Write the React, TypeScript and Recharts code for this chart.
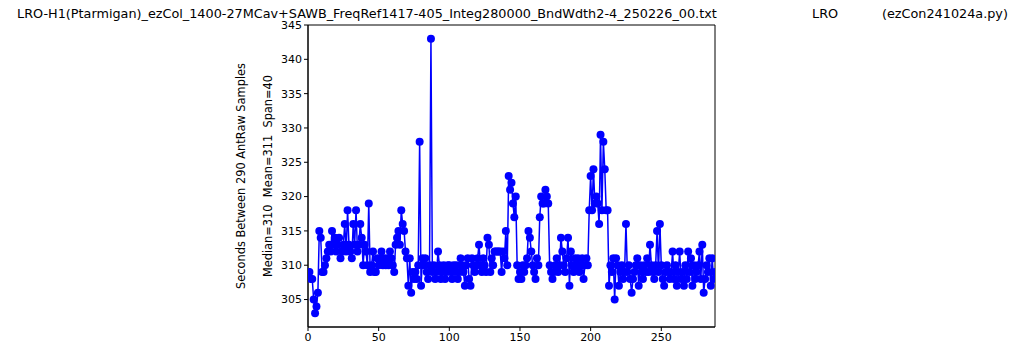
import React from "react";
import { LineChart, Line, XAxis, YAxis, Label, ReferenceArea } from "recharts";

const sampleIndex: number[] = Array.from({ length: 289 }, (_, i) => i);

const secondsBetween: number[] = [
  309, 309, 308, 308, 305, 303, 304, 306, 315, 314,
  309, 309, 310, 311, 312, 313, 312, 315, 313, 314,
  312, 313, 314, 311, 312, 313, 316, 312, 318, 313,
  312, 311, 316, 313, 318, 312, 313, 316, 314, 310,
  313, 312, 310, 319, 309, 310, 312, 309, 309, 311,
  310, 311, 312, 310, 311, 310, 311, 310, 312, 311,
  310, 309, 313, 314, 315, 313, 318, 316, 315, 312,
  311, 307, 311, 306, 309, 308, 309, 308, 310, 328,
  307, 311, 310, 311, 309, 308, 310, 343, 309, 310,
  308, 309, 312, 310, 308, 309, 310, 308, 309, 310,
  310, 309, 308, 310, 309, 310, 308, 309, 311, 310,
  309, 307, 310, 311, 308, 307, 311, 310, 309, 310,
  311, 313, 310, 309, 311, 310, 309, 314, 313, 309,
  311, 310, 312, 312, 312, 312, 312, 309, 312, 311,
  315, 310, 323, 321, 322, 319, 317, 320, 310, 308,
  309, 308, 310, 309, 310, 311, 315, 314, 312, 310,
  309, 308, 311, 310, 317, 320, 319, 319, 321, 320,
  319, 310, 309, 308, 309, 310, 311, 309, 310, 314,
  312, 310, 309, 311, 314, 307, 312, 310, 309, 311,
  310, 311, 309, 310, 311, 308, 310, 311, 310, 318,
  323, 318, 324, 319, 320, 319, 316, 329, 318, 328,
  324, 318, 318, 307, 310, 309, 311, 305, 311, 310,
  307, 309, 310, 308, 309, 316, 309, 310, 308, 306,
  308, 309, 310, 311, 307, 310, 309, 308, 310, 309,
  311, 309, 313, 310, 309, 308, 310, 315, 309, 316,
  310, 308, 307, 309, 310, 309, 308, 309, 312, 308,
  310, 307, 309, 312, 308, 309, 307, 310, 308, 312,
  309, 311, 307, 310, 308, 309, 310, 312, 308, 313,
  306, 308, 310, 309, 311, 307, 311, 308, 309,
];

const xTicks: number[] = [0, 50, 100, 150, 200, 250];
const yTicks: number[] = [305, 310, 315, 320, 325, 330, 335, 340, 345];

const titleMain =
  "LRO-H1(Ptarmigan)_ezCol_1400-27MCav+SAWB_FreqRef1417-405_Integ280000_BndWdth2-4_250226_00.txt";
const titleSite = "LRO";
const titleProg = "(ezCon241024a.py)";
const yLabel1 = "Seconds Between 290 AntRaw Samples";
const yLabel2 = "Median=310  Mean=311  Span=40";

const data = sampleIndex.map((x, i) => ({ x, v: secondsBetween[i] }));

const FONT = "DejaVu Sans, sans-serif";

const YLabelContent = (props: any) => {
  const vb = props.viewBox || {};
  const right = vb.x + vb.width;
  const cy = vb.y + vb.height / 2;
  const x1 = right - 67;
  const x2 = right - 40;
  return (
    <g>
      <text
        x={x1}
        y={cy}
        transform={`rotate(-90, ${x1}, ${cy})`}
        textAnchor="middle"
        dominantBaseline="central"
        fontFamily={FONT}
        fontSize={11.4}
        fill="#000"
        style={{ whiteSpace: "pre" }}
      >
        {yLabel1}
      </text>
      <text
        x={x2}
        y={cy}
        transform={`rotate(-90, ${x2}, ${cy})`}
        textAnchor="middle"
        dominantBaseline="central"
        fontFamily={FONT}
        fontSize={11.4}
        fill="#000"
        style={{ whiteSpace: "pre" }}
      >
        {yLabel2}
      </text>
    </g>
  );
};

const TitleContent = () => (
  <g fontFamily={FONT} fontSize={12.8} fill="#000">
    <text x={17} y={13} dominantBaseline="central">{titleMain}</text>
    <text x={812} y={13} dominantBaseline="central">{titleSite}</text>
    <text x={882} y={13} dominantBaseline="central">{titleProg}</text>
  </g>
);

export default function App() {
  return (
    <div style={{ position: "absolute", left: 0, top: 0, width: 1024, height: 355, background: "#fff" }}>
      <LineChart
        width={1024}
        height={355}
        data={data}
        margin={{ top: 25, right: 309, bottom: 3, left: 258 }}
      >
        <XAxis
          dataKey="x"
          type="number"
          domain={[0, 288]}
          ticks={xTicks}
          allowDataOverflow
          height={25}
          tickLine={{ stroke: "#000" }}
          axisLine={{ stroke: "#000" }}
          tickSize={4}
          tickMargin={2}
          tick={{ fill: "#000", fontSize: 11, fontFamily: FONT }}
        >
          <Label content={<TitleContent />} />
        </XAxis>
        <YAxis
          type="number"
          domain={[301, 345]}
          ticks={yTicks}
          allowDataOverflow
          width={50}
          tickLine={{ stroke: "#000" }}
          axisLine={{ stroke: "#000" }}
          tickSize={4}
          tickMargin={2}
          tick={{ fill: "#000", fontSize: 11, fontFamily: FONT }}
        >
          <Label content={<YLabelContent />} />
        </YAxis>
        <ReferenceArea
          x1={0}
          x2={288}
          y1={301}
          y2={345}
          fill="none"
          fillOpacity={0}
          stroke="#000"
          strokeWidth={1}
          strokeOpacity={1}
          ifOverflow="visible"
        />
        <Line
          dataKey="v"
          type="linear"
          stroke="#0000ff"
          strokeWidth={1.5}
          dot={{ r: 4, fill: "#0000ff", stroke: "#0000ff", strokeWidth: 0 }}
          activeDot={false}
          isAnimationActive={false}
        />
      </LineChart>
    </div>
  );
}
